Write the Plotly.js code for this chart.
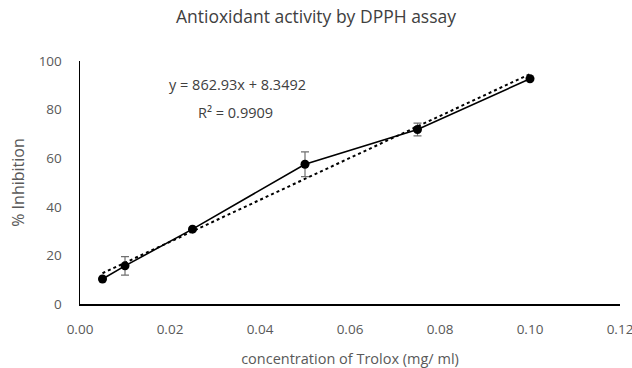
<!DOCTYPE html>
<html>
<head>
<meta charset="utf-8">
<script src="https://cdn.plot.ly/plotly-3.0.1.min.js"></script>
<style>html,body{margin:0;padding:0;background:#fff;}#chart{width:632px;height:368px;}</style>
</head>
<body>
<div id="chart"></div>
<script>
const concentration = [0.005, 0.01, 0.025, 0.05, 0.075, 0.1];
const inhibition = [10.3, 15.7, 30.8, 57.5, 71.8, 92.7];
const errorSD = [0, 3.8, 0, 5.1, 2.6, 0];
const trendSlope = 862.93;
const trendIntercept = 8.3492;
const equationText = "y = 862.93x + 8.3492";
const r2Text = "R² = 0.9909";
const xTicks = [0, 0.02, 0.04, 0.06, 0.08, 0.10, 0.12];
const yTicks = [0, 20, 40, 60, 80, 100];

const trendX = [concentration[0], concentration[concentration.length - 1]];
const trendY = trendX.map(x => trendSlope * x + trendIntercept);

const font = "Open Sans, sans-serif";
const grey = "#595959";

const data = [
  {
    x: trendX, y: trendY, type: "scatter", mode: "lines",
    line: {color: "#000", width: 2, dash: "dot"}, hoverinfo: "skip"
  },
  {
    x: concentration, y: inhibition, type: "scatter", mode: "lines+markers",
    line: {color: "#000", width: 1.6},
    marker: {color: "#000", size: 9},
    error_y: {type: "data", array: errorSD, visible: true, color: "#6f6f6f", thickness: 1.2, width: 4}
  }
];

const layout = {
  width: 632, height: 368,
  margin: {l: 80, r: 12, t: 61, b: 64},
  paper_bgcolor: "#fff", plot_bgcolor: "#fff",
  showlegend: false,
  font: {family: font, color: grey, size: 13},
  title: {text: "Antioxidant activity by DPPH assay", x: 0.5, xanchor: "center", y: 0.955, yanchor: "middle",
          font: {family: font, size: 17.5, color: "#404040"}},
  xaxis: {
    range: [0, 0.12], tickvals: xTicks, tickformat: ".2f",
    showgrid: false, zeroline: false, showline: true, linecolor: "#000", linewidth: 1.5,
    ticks: "", ticklabelstandoff: 12, ticklabeloverflow: "allow",
    tickfont: {family: font, size: 13.5, color: grey},
    title: {text: "concentration of Trolox (mg/ ml)", standoff: 17, font: {family: font, size: 14.5, color: grey}}
  },
  yaxis: {
    range: [0, 100], tickvals: yTicks,
    showgrid: false, zeroline: false, showline: true, linecolor: "#000", linewidth: 1.5,
    ticks: "", ticklabelstandoff: 14, ticklabeloverflow: "allow",
    tickfont: {family: font, size: 13.5, color: grey},
    title: {text: "% Inhibition", standoff: 10, font: {family: font, size: 16, color: grey}}
  },
  annotations: [
    {text: equationText, xref: "paper", yref: "paper", x: (237 - 80) / 540, y: (304 - 84) / 243,
     showarrow: false, xanchor: "center", yanchor: "middle", font: {family: font, size: 14.5, color: "#404040"}},
    {text: r2Text, xref: "paper", yref: "paper", x: (235 - 80) / 540, y: (304 - 112) / 243,
     showarrow: false, xanchor: "center", yanchor: "middle", font: {family: font, size: 14.5, color: "#404040"}}
  ]
};

Plotly.newPlot("chart", data, layout, {displayModeBar: false, staticPlot: true});
</script>
</body>
</html>
